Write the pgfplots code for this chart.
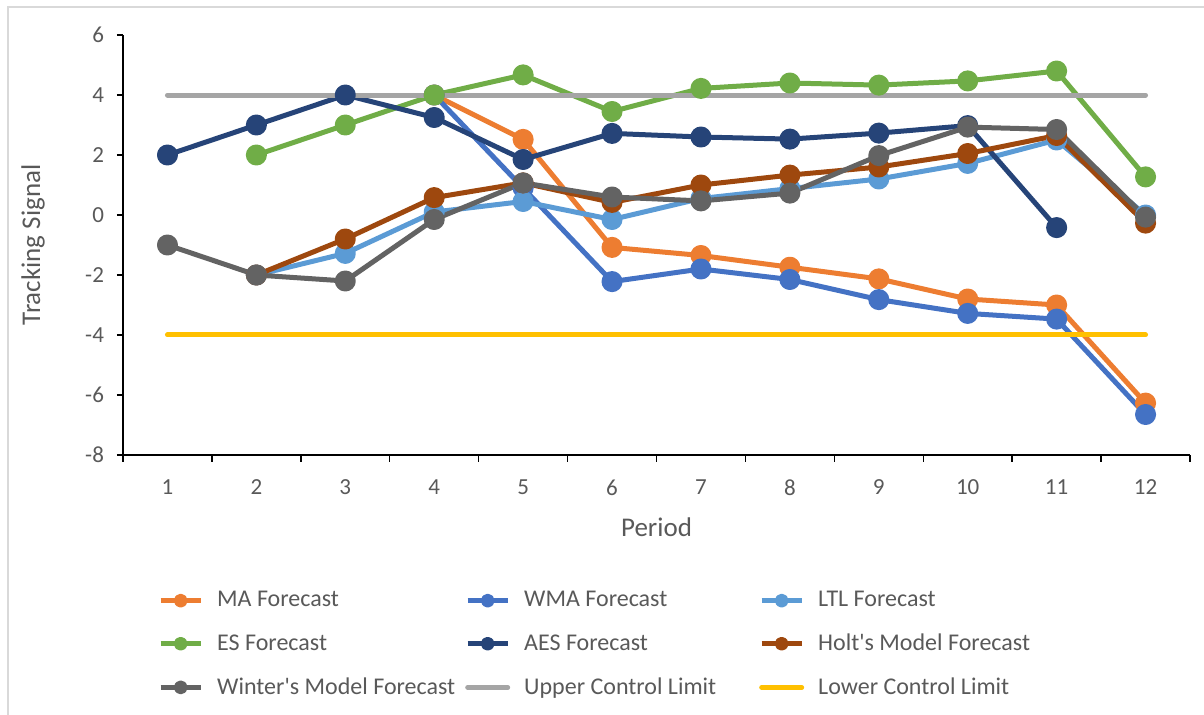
\documentclass[border=0pt]{standalone}
\usepackage{fontspec}
\setmainfont{Carlito}
\usepackage{pgfplots}
\pgfplotsset{compat=1.18}
\definecolor{cMA}{HTML}{ED7D31}
\definecolor{cWMA}{HTML}{4472C4}
\definecolor{cLTL}{HTML}{5B9BD5}
\definecolor{cES}{HTML}{70AD47}
\definecolor{cAES}{HTML}{264478}
\definecolor{cHolt}{HTML}{9E480E}
\definecolor{cWin}{HTML}{636363}
\definecolor{cUCL}{HTML}{A5A5A5}
\definecolor{cLCL}{HTML}{FFC000}
\definecolor{tickgray}{HTML}{595959}
\definecolor{frame}{HTML}{D9D9D9}
\pgfplotsset{ser/.style={color=#1, line width=2.5pt, line join=round, mark=*, mark size=4pt, mark options={solid, fill=#1, draw=none}},
  lim/.style={color=#1, line width=2.5pt, line cap=round, no marks}}
\newcommand{\lentA}[1]{\addlegendentry{\makebox[127pt][l]{\hspace{5pt}#1}}}
\newcommand{\lentB}[1]{\addlegendentry{\makebox[120.5pt][l]{\hspace{5pt}#1}}}
\newcommand{\lentC}[1]{\addlegendentry{\makebox[110pt][l]{\hspace{5pt}#1}}}
\begin{document}
\begin{tikzpicture}
\path[use as bounding box] (-61.5pt,-130pt) rectangle (540.5pt,227.5pt);
\draw[frame, line width=1pt] (-57.5pt,-131pt) -- (-57.5pt,224pt) -- (541pt,224pt);
\begin{axis}[
  at={(0,0)}, anchor=south west,
  scale only axis, width=533.5pt, height=210pt,
  xmin=0.5, xmax=12.5, ymin=-8, ymax=6,
  clip=false,
  axis x line*=bottom, axis y line*=left,
  axis line style={black, line width=0.7pt, -},
  tick align=outside,
  xtick={1,...,12},
  xticklabels={1,2,3,4,5,6,7,8,9,10,11,12},
  minor xtick={0.5,1.5,...,12.5},
  major x tick style={draw=none},
  minor x tick style={black, line width=0.7pt},
  minor tick length=3.5pt,
  ytick={-8,-6,...,6},
  yticklabels={-8,-6,-4,-2,0,2,4,6},
  major y tick style={black, line width=0.7pt},
  major tick length=3pt,
  ticklabel style={font=\fontsize{11.5}{13}\selectfont, text=tickgray},
  xticklabel style={yshift=-6pt},
  yticklabel style={xshift=-3pt},
  xlabel={Period}, ylabel={Tracking Signal},
  label style={font=\fontsize{13.5}{15}\selectfont, text=tickgray},
  x label style={at={(axis description cs:0.5,-0.171)}, anchor=center},
  y label style={at={(axis description cs:-0.0843,0.5)}, anchor=center, rotate=0},
  legend columns=3,
  legend cell align=left,
  legend style={draw=none, fill=none, at={(axis description cs:0.027,-0.305)}, anchor=north west,
     font=\fontsize{12}{14}\selectfont, text=tickgray, row sep=8pt, column sep=0pt},
  legend image code/.code={\draw[mark repeat=2,mark phase=2,#1, every mark/.append style={scale=0.55}] plot coordinates {(0pt,0pt) (10pt,0pt) (20pt,0pt)};},
]
\addplot[ser=cMA] coordinates {(4,4) (5,2.52) (6,-1.08) (7,-1.35) (8,-1.74) (9,-2.13) (10,-2.8) (11,-3.0) (12,-6.27)};
\lentA{MA Forecast}
\addplot[ser=cWMA] coordinates {(4,4) (5,0.9) (6,-2.22) (7,-1.8) (8,-2.15) (9,-2.82) (10,-3.28) (11,-3.47) (12,-6.65)};
\lentB{WMA Forecast}
\addplot[ser=cLTL] coordinates {(2,-2) (3,-1.28) (4,0.1) (5,0.45) (6,-0.15) (7,0.55) (8,0.88) (9,1.2) (10,1.72) (11,2.5) (12,0.0)};
\lentC{LTL Forecast}
\addplot[ser=cES] coordinates {(2,2) (3,3) (4,4) (5,4.67) (6,3.45) (7,4.22) (8,4.4) (9,4.33) (10,4.47) (11,4.8) (12,1.27)};
\lentA{ES Forecast}
\addplot[ser=cAES] coordinates {(1,2) (2,3) (3,4) (4,3.25) (5,1.85) (6,2.72) (7,2.6) (8,2.53) (9,2.73) (10,2.98) (11,-0.42)};
\lentB{AES Forecast}
\addplot[ser=cHolt] coordinates {(2,-2) (3,-0.8) (4,0.58) (5,1.07) (6,0.42) (7,1.0) (8,1.33) (9,1.6) (10,2.05) (11,2.65) (12,-0.27)};
\lentC{Holt\textquotesingle s Model Forecast}
\addplot[ser=cWin] coordinates {(1,-1) (2,-2) (3,-2.2) (4,-0.15) (5,1.07) (6,0.6) (7,0.47) (8,0.73) (9,1.98) (10,2.93) (11,2.85) (12,-0.07)};
\lentA{Winter\textquotesingle s Model Forecast}
\addplot[lim=cUCL] coordinates {(1,4) (2,4) (3,4) (4,4) (5,4) (6,4) (7,4) (8,4) (9,4) (10,4) (11,4) (12,4)};
\lentB{Upper Control Limit}
\addplot[lim=cLCL] coordinates {(1,-4) (2,-4) (3,-4) (4,-4) (5,-4) (6,-4) (7,-4) (8,-4) (9,-4) (10,-4) (11,-4) (12,-4)};
\lentC{Lower Control Limit}
\end{axis}
\end{tikzpicture}
\end{document}
